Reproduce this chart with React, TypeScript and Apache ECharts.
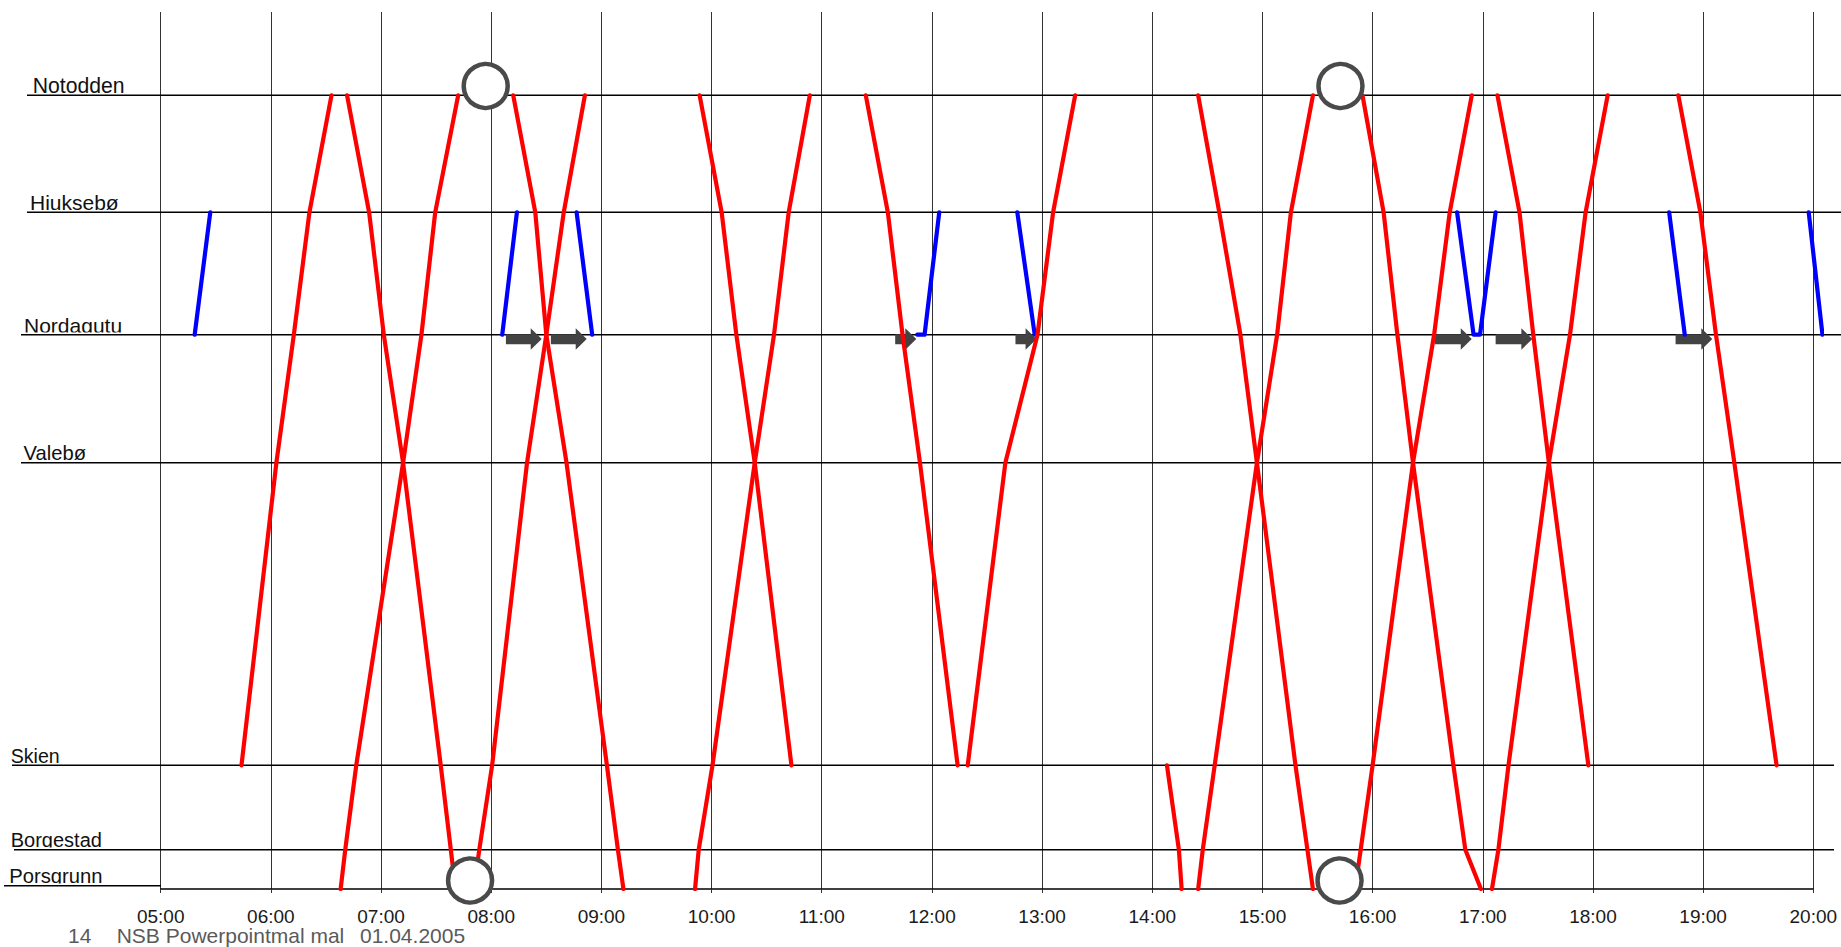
import React, { useEffect, useRef } from "react";
import * as echarts from "echarts";

type Stop = [string, string];

// Stations (top to bottom) and their position along the line (km-like units)
const stationNames = ["Notodden", "Hjuksebø", "Nordagutu", "Valebø", "Skien", "Borgestad", "Porsgrunn"];
const stationKm = [79.37, 67.67, 55.43, 42.63, 12.37, 3.93, 0];

// Time axis tick labels
const hourTickLabels = [
  "05:00", "06:00", "07:00", "08:00", "09:00", "10:00", "11:00", "12:00",
  "13:00", "14:00", "15:00", "16:00", "17:00", "18:00", "19:00", "20:00",
];

// Red trains (Notodden – Porsgrunn line)
const red01: Stop[] = [["Skien", "05:44"], ["Valebø", "06:03"], ["Nordagutu", "06:12.5"], ["Hjuksebø", "06:21"], ["Notodden", "06:33"]];
const red02: Stop[] = [["Notodden", "06:41.5"], ["Hjuksebø", "06:53.5"], ["Nordagutu", "07:01.5"], ["Valebø", "07:12"], ["Skien", "07:32.5"], ["Borgestad", "07:38"], ["Porsgrunn", "07:40.5"]];
const red03: Stop[] = [["Porsgrunn", "06:38"], ["Borgestad", "06:40.5"], ["Skien", "06:46.5"], ["Valebø", "07:12"], ["Nordagutu", "07:22"], ["Hjuksebø", "07:29.5"], ["Notodden", "07:42"]];
const red04: Stop[] = [["Notodden", "08:12"], ["Hjuksebø", "08:24"], ["Nordagutu", "08:30"], ["Valebø", "08:41"], ["Skien", "09:03"], ["Borgestad", "09:09"], ["Porsgrunn", "09:12"]];
const red05: Stop[] = [["Porsgrunn", "07:50.5"], ["Borgestad", "07:53.5"], ["Skien", "08:00.5"], ["Valebø", "08:19.5"], ["Nordagutu", "08:30"], ["Hjuksebø", "08:39.5"], ["Notodden", "08:51"]];
const red06: Stop[] = [["Notodden", "09:53.5"], ["Hjuksebø", "10:05.5"], ["Nordagutu", "10:13.5"], ["Valebø", "10:23.5"], ["Skien", "10:43.5"]];
const red07: Stop[] = [["Porsgrunn", "09:51"], ["Borgestad", "09:53"], ["Skien", "10:00.5"], ["Valebø", "10:23.5"], ["Nordagutu", "10:34"], ["Hjuksebø", "10:42"], ["Notodden", "10:53.5"]];
const red08: Stop[] = [["Notodden", "11:24"], ["Hjuksebø", "11:36"], ["Nordagutu", "11:44"], ["Valebø", "11:53.5"], ["Skien", "12:14"]];
const red09: Stop[] = [["Skien", "12:19.5"], ["Valebø", "12:40"], ["Nordagutu", "12:57.5"], ["Hjuksebø", "13:06"], ["Notodden", "13:18"]];
const red10: Stop[] = [["Notodden", "14:25"], ["Hjuksebø", "14:36.5"], ["Nordagutu", "14:48"], ["Valebø", "14:57"], ["Skien", "15:18"], ["Borgestad", "15:24.5"], ["Porsgrunn", "15:27.5"]];
const red11: Stop[] = [["Skien", "14:08"], ["Borgestad", "14:14.5"], ["Porsgrunn", "14:16"]];
const red12: Stop[] = [["Porsgrunn", "14:25"], ["Borgestad", "14:27.5"], ["Skien", "14:34"], ["Valebø", "14:57"], ["Nordagutu", "15:08"], ["Hjuksebø", "15:15.5"], ["Notodden", "15:27.5"]];
const red13: Stop[] = [["Notodden", "15:54.5"], ["Hjuksebø", "16:06"], ["Nordagutu", "16:13.5"], ["Valebø", "16:22"], ["Skien", "16:44"], ["Borgestad", "16:50.5"], ["Porsgrunn", "16:59"]];
const red14: Stop[] = [["Porsgrunn", "15:50.5"], ["Borgestad", "15:53.5"], ["Skien", "16:00"], ["Valebø", "16:22"], ["Nordagutu", "16:33.5"], ["Hjuksebø", "16:42"], ["Notodden", "16:54"]];
const red15: Stop[] = [["Notodden", "17:08"], ["Hjuksebø", "17:20"], ["Nordagutu", "17:27.5"], ["Valebø", "17:36"], ["Skien", "17:57.5"]];
const red16: Stop[] = [["Porsgrunn", "17:05"], ["Borgestad", "17:08.5"], ["Skien", "17:14"], ["Valebø", "17:36"], ["Nordagutu", "17:47.5"], ["Hjuksebø", "17:56"], ["Notodden", "18:08"]];
const red17: Stop[] = [["Notodden", "18:46.5"], ["Hjuksebø", "18:58.5"], ["Nordagutu", "19:07"], ["Valebø", "19:17"], ["Skien", "19:40"]];

// Blue shuttle trains (Nordagutu – Hjuksebø)
const blue01: Stop[] = [["Nordagutu", "05:18.5"], ["Hjuksebø", "05:27"]];
const blue02: Stop[] = [["Nordagutu", "08:06"], ["Hjuksebø", "08:14"]];
const blue03: Stop[] = [["Hjuksebø", "08:46.5"], ["Nordagutu", "08:55"]];
const blue04: Stop[] = [["Nordagutu", "11:52"], ["Nordagutu", "11:56"], ["Hjuksebø", "12:04"]];
const blue05: Stop[] = [["Hjuksebø", "12:46.5"], ["Nordagutu", "12:56"]];
const blue06: Stop[] = [["Hjuksebø", "16:46"], ["Nordagutu", "16:55"], ["Nordagutu", "16:58.5"], ["Hjuksebø", "17:07"]];
const blue07: Stop[] = [["Hjuksebø", "18:41.5"], ["Nordagutu", "18:50"]];
const blue08: Stop[] = [["Hjuksebø", "19:57.5"], ["Nordagutu", "20:05"]];

// Transfer arrows at Nordagutu (from, to)
const transferArrows: Stop[] = [
  ["08:08", "08:27.5"], ["08:32.5", "08:52"], ["11:40", "11:51.5"], ["12:45.5", "12:57"],
  ["16:34", "16:54"], ["17:07", "17:27"], ["18:45", "19:05"],
];

// Highlight circles (time, position)
const circleTimes = ["07:57", "07:48.5", "15:42.5", "15:42"];
const circleKm = [80.3, 0.85, 80.3, 0.85];

const footerTexts = ["14", "NSB Powerpointmal mal", "01.04.2005"];

const redTrains = [red01, red02, red03, red04, red05, red06, red07, red08, red09, red10, red11, red12, red13, red14, red15, red16, red17];
const blueTrains = [blue01, blue02, blue03, blue04, blue05, blue06, blue07];
const blueOverflowTrains = [blue08];

const toMin = (s: string) => {
  const [h, m] = s.split(":");
  return Number(h) * 60 + parseFloat(m);
};
const kmOf = (name: string) => stationKm[stationNames.indexOf(name)];
const pad = (n: number) => String(n).padStart(2, "0");
const fmt = (v: number) => {
  const h = Math.floor(v / 60);
  const m = Math.round(v - h * 60);
  return pad(h) + ":" + pad(m);
};

// Layout (pixels)
const W = 1841;
const H = 947;
const GRID_TOP = 12;
const GRID_BOTTOM = 58;
const PLOT_LEFT = 160.7;
const PLOT_RIGHT = 27.7;
const CLIP_RIGHT = 20; // slide clipping edge for the last shuttle
const Y_MAX = 87.7;
const ruleStartX = [27, 27, 21, 21, 12, 14, 4];
const ruleEndX = [1841, 1841, 1841, 1841, 1834, 1834, 161];
const ruleShift = [0, 0, 0, 0, 0, 0, 0.33];
const labelX = [32.7, 30, 24, 23.5, 10.7, 10.7, 9.3];
const labelSize = [21.2, 21, 21, 20.2, 19.6, 20, 20.2];
const footerX = [68, 116.7, 360];
const FONT = "Liberation Sans";

export default function App() {
  const ref = useRef<HTMLDivElement>(null);

  useEffect(() => {
    const chart = echarts.init(ref.current!, null, { renderer: "svg" });
    const xMin = toMin(hourTickLabels[0]);
    const xMax = toMin(hourTickLabels[hourTickLabels.length - 1]);
    const plotW = W - PLOT_LEFT - PLOT_RIGHT;
    const pxPerMin = plotW / (xMax - xMin);
    const xMaxClip = xMin + (W - PLOT_LEFT - CLIP_RIGHT) / pxPerMin;
    const nordKm = kmOf("Nordagutu");

    const series: any[] = [];

    stationNames.forEach((name, i) => {
      const y = stationKm[i] + ruleShift[i];
      series.push({
        type: "line",
        name: "rule-" + name,
        xAxisIndex: 1,
        yAxisIndex: 1,
        data: [[ruleStartX[i], y], [ruleEndX[i], y]],
        symbol: "none",
        silent: true,
        clip: false,
        z: 2,
        lineStyle: { color: "#000", width: 1.5 },
      });
    });

    series.push({
      type: "custom",
      name: "transfers",
      xAxisIndex: 0,
      yAxisIndex: 0,
      silent: true,
      z: 3,
      data: transferArrows.map(([a, b]) => [toMin(a), toMin(b)]),
      encode: { x: [0, 1] },
      renderItem: (params: any, api: any) => {
        const p1 = api.coord([api.value(0), nordKm]);
        const p2 = api.coord([api.value(1), nordKm]);
        const y = p1[1];
        const head = 11;
        const s0 = y - 0.5;
        const s1 = y + 9.5;
        const h0 = y - 6.5;
        const h1 = y + 15;
        const bx = p2[0] - head;
        return {
          type: "polygon",
          shape: {
            points: [
              [p1[0], s0], [bx, s0], [bx, h0], [p2[0], (h0 + h1) / 2], [bx, h1], [bx, s1], [p1[0], s1],
            ],
          },
          style: { fill: "#434343" },
        };
      },
    });

    const blueStyle = { color: "#0000ff", width: 4.2, cap: "round", join: "round" };
    blueTrains.forEach((t, i) => {
      series.push({
        type: "line",
        name: "blue" + (i + 1),
        xAxisIndex: 0,
        yAxisIndex: 0,
        data: t.map(([s, time]) => [toMin(time), kmOf(s)]),
        symbol: "none",
        silent: true,
        z: 4,
        lineStyle: blueStyle,
      });
    });
    blueOverflowTrains.forEach((t, i) => {
      series.push({
        type: "line",
        name: "blue-late" + (i + 1),
        xAxisIndex: 2,
        yAxisIndex: 2,
        data: t.map(([s, time]) => [toMin(time), kmOf(s)]),
        symbol: "none",
        silent: true,
        clip: true,
        z: 4,
        lineStyle: blueStyle,
      });
    });

    redTrains.forEach((t, i) => {
      series.push({
        type: "line",
        name: "red" + (i + 1),
        xAxisIndex: 0,
        yAxisIndex: 0,
        data: t.map(([s, time]) => [toMin(time), kmOf(s)]),
        symbol: "none",
        silent: true,
        z: 5,
        lineStyle: { color: "#ff0000", width: 4.2, cap: "round", join: "round" },
      });
    });

    series.push({
      type: "scatter",
      name: "circles",
      xAxisIndex: 0,
      yAxisIndex: 0,
      silent: true,
      clip: false,
      z: 8,
      symbol: "circle",
      symbolSize: 44,
      data: circleTimes.map((t, i) => [toMin(t), circleKm[i]]),
      itemStyle: { color: "#ffffff", borderColor: "#4a4a4a", borderWidth: 4.5, opacity: 1 },
    });

    chart.setOption({
      animation: false,
      backgroundColor: "#ffffff",
      textStyle: { fontFamily: FONT },
      grid: [
        { left: PLOT_LEFT, right: PLOT_RIGHT, top: GRID_TOP, bottom: GRID_BOTTOM, containLabel: false, outerBoundsMode: "none" },
        { left: 0, right: 0, top: GRID_TOP, bottom: GRID_BOTTOM, containLabel: false, outerBoundsMode: "none" },
        { left: PLOT_LEFT, right: CLIP_RIGHT, top: GRID_TOP, bottom: GRID_BOTTOM, containLabel: false, outerBoundsMode: "none" },
      ],
      xAxis: [
        {
          type: "value",
          gridIndex: 0,
          min: xMin,
          max: xMax,
          interval: 60,
          axisLine: { show: true, lineStyle: { color: "#000", width: 1.5 } },
          axisTick: { show: true, length: 4, lineStyle: { color: "#333", width: 1 } },
          splitLine: { show: true, lineStyle: { color: "#333", width: 1 } },
          axisLabel: {
            show: true,
            margin: 18,
            color: "#1a1a1a",
            fontSize: 19,
            fontFamily: FONT,
            formatter: (v: number) => fmt(v),
          },
        },
        { type: "value", gridIndex: 1, min: 0, max: W, show: false },
        { type: "value", gridIndex: 2, min: xMin, max: xMaxClip, show: false },
      ],
      yAxis: [
        { type: "value", gridIndex: 0, min: 0, max: Y_MAX, show: false, splitLine: { show: false } },
        { type: "value", gridIndex: 1, min: 0, max: Y_MAX, show: false, splitLine: { show: false } },
        { type: "value", gridIndex: 2, min: 0, max: Y_MAX, show: false, splitLine: { show: false } },
      ],
      series,
    });

    const gfx: any[] = [];
    stationNames.forEach((name, i) => {
      const y = stationKm[i] + ruleShift[i];
      const p = chart.convertToPixel({ gridIndex: 1 } as any, [labelX[i], y]) as number[];
      const py = p[1];
      gfx.push({
        type: "text",
        x: p[0],
        y: py - 2.4 - labelSize[i] * 0.3465,
        z: 1,
        silent: true,
        style: {
          text: name,
          fontSize: labelSize[i],
          fontFamily: FONT,
          fill: "#111",
          textAlign: "left",
          textVerticalAlign: "middle",
        },
      });
      gfx.push({
        type: "rect",
        z: 1.5,
        silent: true,
        shape: { x: 0, y: py - 2.3, width: 159, height: 9 },
        style: { fill: "#ffffff" },
      });
    });
    footerTexts.forEach((t, i) => {
      gfx.push({
        type: "text",
        x: footerX[i],
        y: 935.5,
        z: 1,
        silent: true,
        style: {
          text: t,
          fontSize: 21,
          fontFamily: FONT,
          fill: "#5a5a5a",
          textAlign: "left",
          textVerticalAlign: "middle",
        },
      });
    });
    chart.setOption({ graphic: gfx });

    return () => chart.dispose();
  }, []);

  return (
    <div
      ref={ref}
      style={{ position: "fixed", left: 0, top: 0, width: W, height: H, background: "#fff" }}
    />
  );
}
